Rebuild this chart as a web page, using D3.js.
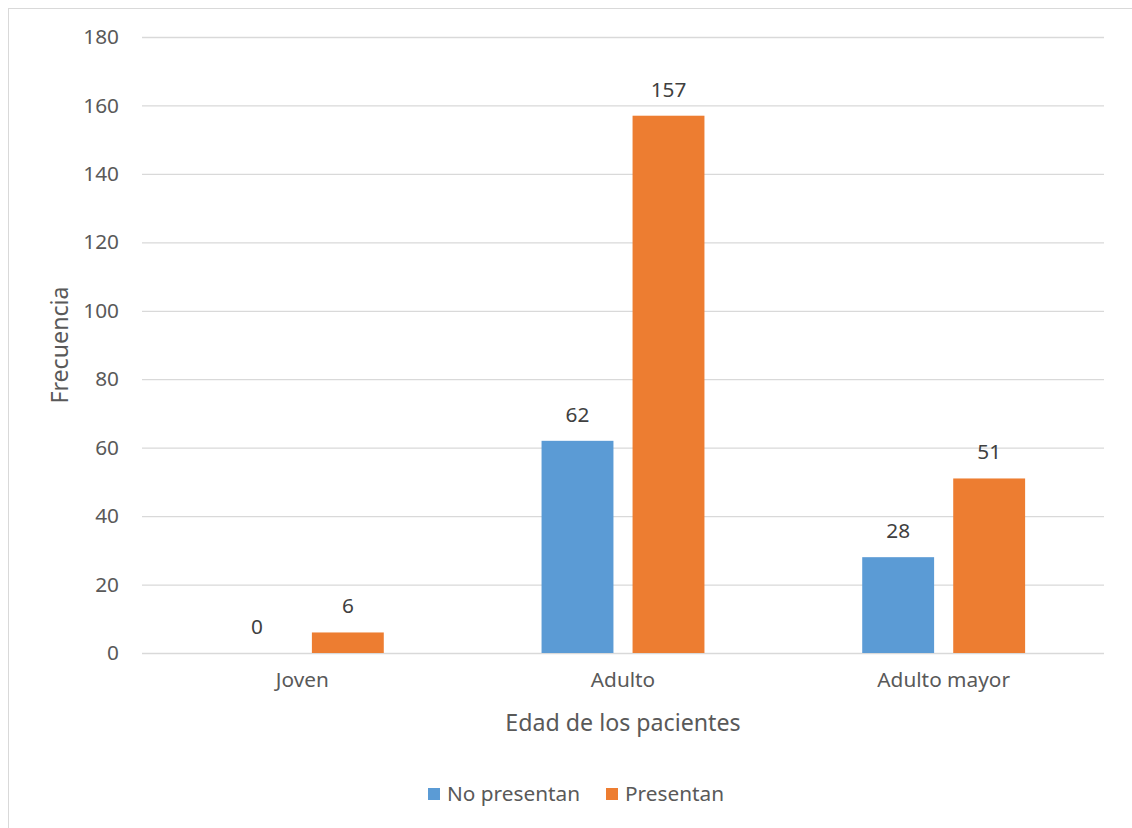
<!DOCTYPE html>
<html>
<head>
<meta charset="utf-8">
<script src="https://cdn.jsdelivr.net/npm/d3@7"></script>
<style>
  html, body { margin: 0; padding: 0; background: #fff; }
  svg { display: block; }
  text { font-family: "Noto Sans", "Open Sans", sans-serif; }
</style>
</head>
<body>
<svg id="chart" width="1132" height="828"></svg>
<script>
// Patients by age group, split by whether they present the condition
const categories = ["Joven", "Adulto", "Adulto mayor"];
const seriesNames = ["No presentan", "Presentan"];
const noPresentan = [0, 62, 28];
const presentan = [6, 157, 51];
const yTicks = [0, 20, 40, 60, 80, 100, 120, 140, 160, 180];
const seriesColors = ["#5B9BD5", "#ED7D31"];

const seriesValues = [noPresentan, presentan];
const rows = categories.map((c, i) => ({
  category: c,
  values: seriesNames.map((s, j) => ({ series: s, value: seriesValues[j][i], color: seriesColors[j] }))
}));

const svg = d3.select("#chart");
const W = 1132, H = 828;
const fs = 20.8;

// outer chart frame
svg.append("rect")
  .attr("x", 8.5).attr("y", 8.5)
  .attr("width", W + 10).attr("height", H + 10)
  .attr("fill", "#fff").attr("stroke", "#D9D9D9").attr("stroke-width", 1);

const plot = { left: 142, right: 1104, top: 37, bottom: 653 };

const y = d3.scaleLinear().domain([0, 180]).range([plot.bottom, plot.top]);
const x0 = d3.scaleBand().domain(categories).range([plot.left, plot.right]).padding(0);
const bw = x0.bandwidth();
const x1 = d3.scaleBand().domain(seriesNames)
  .range([bw * 0.246, bw * 0.754]).paddingInner(0.21).paddingOuter(0);

// horizontal gridlines
svg.append("g")
  .attr("transform", `translate(${plot.left},0)`)
  .call(d3.axisLeft(y).tickValues(yTicks).tickSize(-(plot.right - plot.left)).tickFormat(""))
  .call(g => g.select(".domain").remove())
  .call(g => g.selectAll(".tick line").attr("stroke", "#D9D9D9").attr("stroke-width", 1.3));

// y tick labels
svg.append("g")
  .attr("transform", `translate(${plot.left - 23},0)`)
  .call(d3.axisLeft(y).tickValues(yTicks).tickSize(0).tickPadding(0))
  .call(g => g.select(".domain").remove())
  .call(g => g.selectAll(".tick text")
    .attr("fill", "#595959").attr("font-size", fs)
    .attr("font-family", "'Noto Sans', sans-serif"));

// bars
const groups = svg.append("g").selectAll("g")
  .data(rows).join("g")
  .attr("transform", d => `translate(${x0(d.category)},0)`);

groups.selectAll("rect")
  .data(d => d.values).join("rect")
  .attr("x", d => x1(d.series))
  .attr("width", x1.bandwidth())
  .attr("y", d => y(d.value))
  .attr("height", d => y(0) - y(d.value))
  .attr("fill", d => d.color);

// value labels
groups.selectAll("text.val")
  .data(d => d.values).join("text")
  .attr("class", "val")
  .attr("x", d => x1(d.series) + x1.bandwidth() / 2)
  .attr("y", d => y(d.value) - 19)
  .attr("text-anchor", "middle")
  .attr("fill", "#404040")
  .attr("font-size", fs)
  .text(d => d.value);

// x category labels
svg.append("g")
  .attr("transform", `translate(0,${plot.bottom + 40})`)
  .call(d3.axisBottom(x0).tickSize(0).tickPadding(0))
  .call(g => g.select(".domain").remove())
  .call(g => g.selectAll(".tick text")
    .attr("fill", "#595959").attr("font-size", fs)
    .attr("font-family", "'Noto Sans', sans-serif")
    .attr("dy", "-0.3em"));

// axis titles
svg.append("text")
  .attr("x", (plot.left + plot.right) / 2)
  .attr("y", 731)
  .attr("text-anchor", "middle")
  .attr("fill", "#595959")
  .attr("font-size", 23.2)
  .text("Edad de los pacientes");

svg.append("text")
  .attr("transform", `translate(68,345) rotate(-90)`)
  .attr("text-anchor", "middle")
  .attr("fill", "#595959")
  .attr("font-size", 23.2)
  .text("Frecuencia");

// legend
const legendItems = [
  { name: seriesNames[0], color: seriesColors[0], x: 428 },
  { name: seriesNames[1], color: seriesColors[1], x: 606 }
];
const lg = svg.append("g").selectAll("g").data(legendItems).join("g")
  .attr("transform", d => `translate(${d.x},788)`);
lg.append("rect").attr("width", 12).attr("height", 12).attr("fill", d => d.color);
lg.append("text")
  .attr("x", 19).attr("y", 13)
  .attr("fill", "#595959")
  .attr("font-size", fs)
  .text(d => d.name);
</script>
</body>
</html>
